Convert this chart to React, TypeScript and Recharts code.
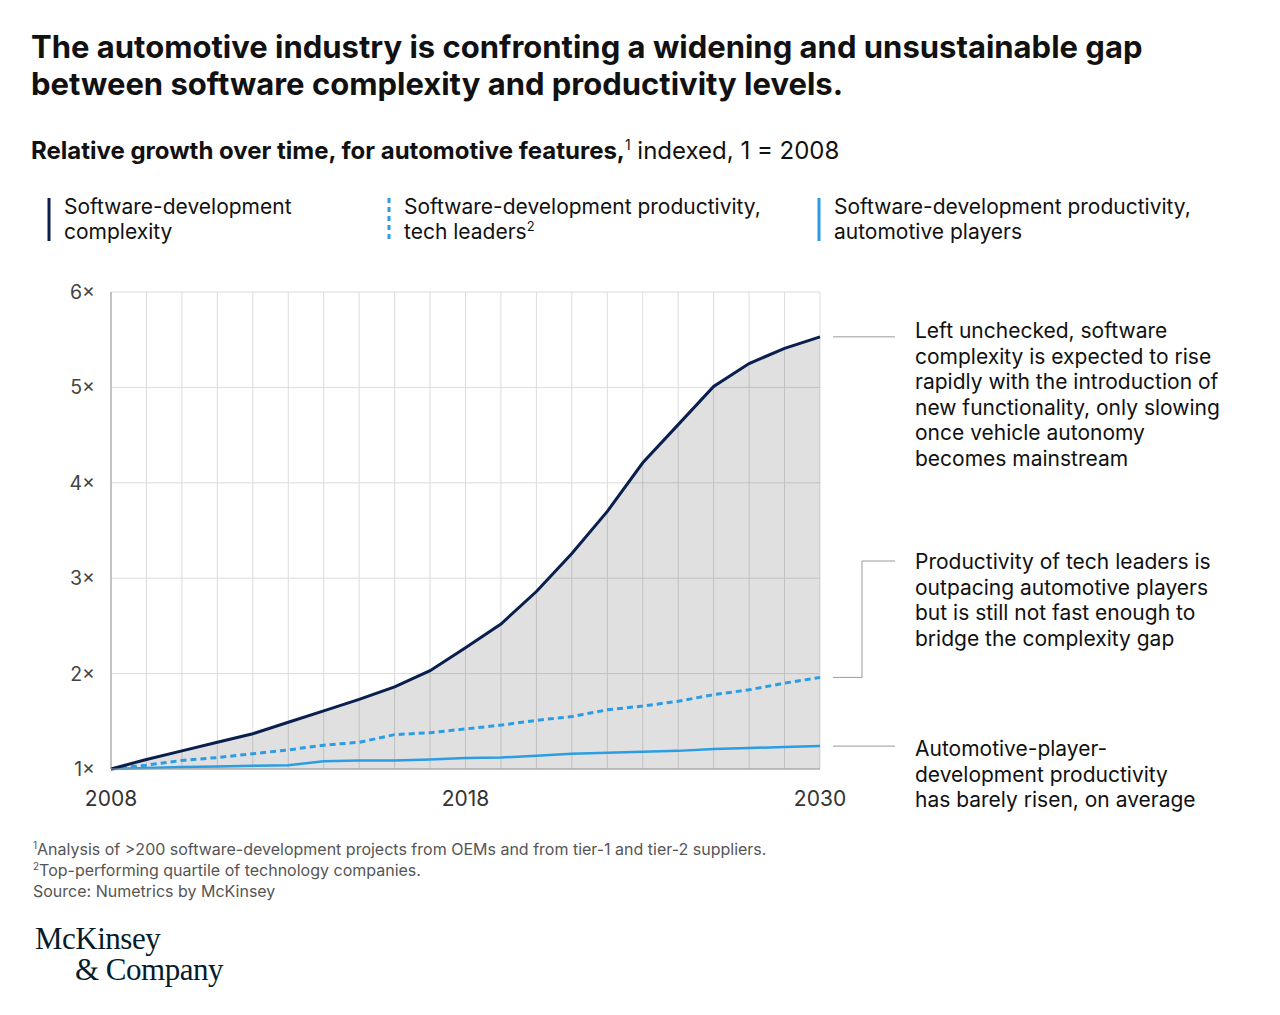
import React from "react";
import { ComposedChart, Area, Line, XAxis, YAxis, CartesianGrid } from "recharts";

// indexed values, 1 = 2008; 21 points along the time axis
const steps = [0, 1, 2, 3, 4, 5, 6, 7, 8, 9, 10, 11, 12, 13, 14, 15, 16, 17, 18, 19, 20];
const complexity = [1.0, 1.1, 1.19, 1.28, 1.37, 1.49, 1.61, 1.73, 1.86, 2.03, 2.27, 2.52, 2.86, 3.26, 3.7, 4.21, 4.61, 5.01, 5.25, 5.41, 5.53];
const techLeaders = [1.0, 1.04, 1.09, 1.12, 1.16, 1.2, 1.25, 1.28, 1.36, 1.38, 1.42, 1.46, 1.51, 1.55, 1.62, 1.66, 1.71, 1.78, 1.83, 1.9, 1.96];
const autoPlayers = [1.0, 1.01, 1.02, 1.025, 1.035, 1.04, 1.08, 1.09, 1.09, 1.1, 1.115, 1.12, 1.14, 1.16, 1.17, 1.18, 1.19, 1.21, 1.22, 1.23, 1.24];
const xTickLabels: Record<number, string> = { 0: "2008", 10: "2018", 20: "2030" };
const yTicks = [1, 2, 3, 4, 5, 6];

const NAVY = "#0a1f4d";
const CYAN = "#2a9de4";
const LEADER = "#9a9a9a";
const FONT = "Inter, Roboto, sans-serif";

const data = steps.map((s, i) => ({
  step: s,
  complexity: complexity[i],
  techLeaders: techLeaders[i],
  autoPlayers: autoPlayers[i],
}));
const last = steps.length - 1;

// leader line from the end point of a series to its note on the right
const leader = (bendTo?: number) => (props: any) => {
  if (props.index !== last) return null;
  const { x, y } = props;
  if (bendTo == null) {
    return <line x1={x + 13} y1={y} x2={x + 75} y2={y} stroke={LEADER} strokeWidth={1} />;
  }
  return (
    <polyline
      points={`${x + 13},${y} ${x + 42},${y} ${x + 42},${bendTo} ${x + 75},${bendTo}`}
      fill="none"
      stroke={LEADER}
      strokeWidth={1}
    />
  );
};

const LegendItem = ({ left, color, dashed, lines }: { left: number; color: string; dashed?: boolean; lines: React.ReactNode }) => (
  <div style={{ position: "absolute", left, top: 194, display: "flex" }}>
    <svg width={4} height={44} style={{ marginTop: 4 }}>
      <line x1={2} y1={0} x2={2} y2={43} stroke={color} strokeWidth={3} strokeDasharray={dashed ? "5 4" : undefined} />
    </svg>
    <div style={{ marginLeft: 13, fontSize: 21, lineHeight: "25px", color: "#111" }}>{lines}</div>
  </div>
);

const note = (top: number, text: string[]) => (
  <div style={{ position: "absolute", left: 915, top, fontSize: 21, lineHeight: "25.5px", color: "#111" }}>
    {text.map((t) => (
      <div key={t}>{t}</div>
    ))}
  </div>
);

export default function App() {
  return (
    <div style={{ position: "absolute", left: 0, top: 0, width: 1280, height: 1015, background: "#fff", fontFamily: FONT }}>
      <ComposedChart
        width={1280}
        height={830}
        data={data}
        margin={{ top: 292, right: 460, bottom: 11, left: 0 }}
        style={{ position: "absolute", left: 0, top: 0 }}
      >
        <CartesianGrid stroke="#dcdcdc" strokeWidth={1} />
        <XAxis
          dataKey="step"
          type="number"
          domain={[0, 20]}
          ticks={steps}
          interval={0}
          height={50}
          tickLine={false}
          tickSize={0}
          tickMargin={22}
          axisLine={{ stroke: "#9a9a9a" }}
          tick={{ fontSize: 21, fill: "#333", fontFamily: FONT }}
          tickFormatter={(v: number) => xTickLabels[v] ?? ""}
        />
        <YAxis
          type="number"
          domain={[1, 6]}
          ticks={yTicks}
          width={111}
          tickLine={false}
          tickSize={0}
          tickMargin={16}
          axisLine={{ stroke: "#9a9a9a" }}
          tick={{ fontSize: 19.5, fill: "#444", fontFamily: FONT }}
          tickFormatter={(v: number) => `${v}×`}
        />
        <Area
          dataKey="complexity"
          type="linear"
          stroke="none"
          fill="#000"
          fillOpacity={0.12}
          baseValue={1}
          isAnimationActive={false}
        />
        <Line
          dataKey="autoPlayers"
          type="linear"
          stroke={CYAN}
          strokeWidth={2.5}
          dot={false}
          label={leader()}
          isAnimationActive={false}
        />
        <Line
          dataKey="techLeaders"
          type="linear"
          stroke={CYAN}
          strokeWidth={3}
          strokeDasharray="6 4"
          dot={false}
          label={leader(561)}
          isAnimationActive={false}
        />
        <Line
          dataKey="complexity"
          type="linear"
          stroke={NAVY}
          strokeWidth={3}
          dot={false}
          label={leader()}
          isAnimationActive={false}
        />
      </ComposedChart>

      <div style={{ position: "absolute", left: 31, top: 28, fontSize: 31, lineHeight: "37px", fontWeight: 700, color: "#111" }}>
        The automotive industry is confronting a widening and unsustainable gap
        <br />
        between software complexity and productivity levels.
      </div>
      <div style={{ position: "absolute", left: 31, top: 136, fontSize: 24, lineHeight: "30px", color: "#111" }}>
        <b>Relative growth over time, for automotive features,</b>
        <sup style={{ fontSize: 14, lineHeight: 0 }}>1</sup> indexed, 1 = 2008
      </div>

      <LegendItem left={47} color={NAVY} lines={<>Software-development<br />complexity</>} />
      <LegendItem
        left={387}
        color={CYAN}
        dashed
        lines={<>Software-development productivity,<br />tech leaders<sup style={{ fontSize: 13, lineHeight: 0 }}>2</sup></>}
      />
      <LegendItem left={817} color={CYAN} lines={<>Software-development productivity,<br />automotive players</>} />

      {note(318, [
        "Left unchecked, software",
        "complexity is expected to rise",
        "rapidly with the introduction of",
        "new functionality, only slowing",
        "once vehicle autonomy",
        "becomes mainstream",
      ])}
      {note(549, [
        "Productivity of tech leaders is",
        "outpacing automotive players",
        "but is still not fast enough to",
        "bridge the complexity gap",
      ])}
      {note(736, ["Automotive-player-", "development productivity", "has barely risen, on average"])}

      <div style={{ position: "absolute", left: 33, top: 839, fontSize: 16, lineHeight: "21px", color: "#555" }}>
        <div><sup style={{ fontSize: 10, lineHeight: 0 }}>1</sup>Analysis of &gt;200 software-development projects from OEMs and from tier-1 and tier-2 suppliers.</div>
        <div><sup style={{ fontSize: 10, lineHeight: 0 }}>2</sup>Top-performing quartile of technology companies.</div>
        <div>Source: Numetrics by McKinsey</div>
      </div>

      <div style={{ position: "absolute", left: 35, top: 923, fontFamily: "'Liberation Serif', serif", fontSize: 31, lineHeight: "31px", color: "#051c2c", letterSpacing: -0.5 }}>
        <div>McKinsey</div>
        <div style={{ marginLeft: 40 }}>&amp; Company</div>
      </div>
    </div>
  );
}
